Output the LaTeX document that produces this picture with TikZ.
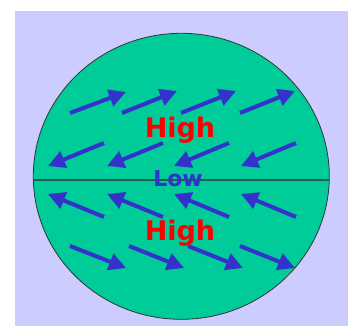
\documentclass[tikz,border=0pt]{standalone}
\usepackage{fontspec}
\newfontfamily\vfont{DejaVu Sans}
\usetikzlibrary{arrows.meta}
\definecolor{bgc}{HTML}{CCCCFF}
\definecolor{globe}{HTML}{00CC99}
\definecolor{wind}{HTML}{3333CC}
\definecolor{eq}{HTML}{1E5E48}
\tikzset{
  windarrow/.style={draw=wind, line width=4pt, -{Triangle[length=17pt,width=17pt]}},
  hightext/.style={text=red, font=\vfont\bfseries\fontsize{27}{27}\selectfont, inner sep=0pt},
  lowtext/.style={text=wind, font=\vfont\bfseries\fontsize{22}{22}\selectfont, inner sep=0pt},
}
\begin{document}
\begin{tikzpicture}[x=1pt,y=-1pt]
\useasboundingbox (0,0) rectangle (355,326);
\fill[white] (0,0) rectangle (355,326);
\fill[bgc] (15,11) rectangle (348,326);
\draw[fill=globe, draw=black!80, line width=0.8pt] (181.3,176.3) ellipse [x radius=148, y radius=143];
\draw[eq, line width=1.5pt] (33.5,180) -- (329,180);
% row 1
\draw[windarrow] (70,113) -- (126,92);
\draw[windarrow] (122,113) -- (177,91);
\draw[windarrow] (181,113) -- (236,91);
\draw[windarrow] (240,113) -- (295,91);
% row 2
\draw[windarrow] (104,143) -- (48,166);
\draw[windarrow] (163,143) -- (107,166);
\draw[windarrow] (229,143) -- (174,166);
\draw[windarrow] (296,143) -- (241,166);
% row 3
\draw[windarrow] (104,217) -- (48,194);
\draw[windarrow] (163,217) -- (107,194);
\draw[windarrow] (229,217) -- (174,194);
\draw[windarrow] (296,217) -- (241,194);
% row 4
\draw[windarrow] (70,246) -- (126,268);
\draw[windarrow] (129,246) -- (184,268);
\draw[windarrow] (188,246) -- (243,268);
\draw[windarrow] (240,246) -- (295,268);
\node[hightext] (high1) at (180,130) {High};
\node[hightext] (high2) at (180,233) {High};
\node[lowtext] (low) at (178,179) {Low};
\end{tikzpicture}
\end{document}
